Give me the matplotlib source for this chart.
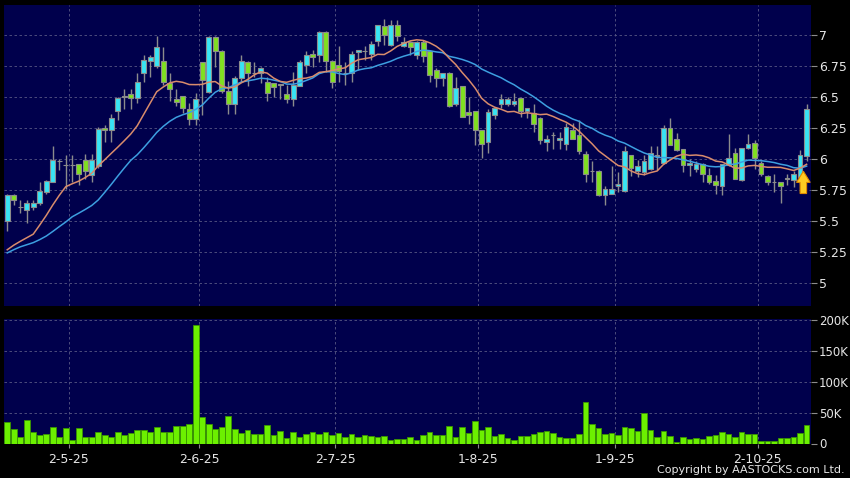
import matplotlib
matplotlib.use('Agg')
import matplotlib.pyplot as plt
from matplotlib.patches import FancyArrow
from matplotlib.ticker import FuncFormatter
import numpy as np

# Daily OHLC, one entry per trading day
opens = [5.50, 5.71, 5.61, 5.59, 5.61, 5.64, 5.73, 5.81, 5.98, 5.95,
         5.95, 5.96, 5.99, 5.87, 5.94, 6.25, 6.23, 6.39, 6.50, 6.52,
         6.49, 6.69, 6.79, 6.75, 6.79, 6.61, 6.48, 6.51, 6.40, 6.32,
         6.78, 6.54, 6.98, 6.87, 6.55, 6.44, 6.65, 6.78, 6.69, 6.69,
         6.62, 6.61, 6.60, 6.52, 6.48, 6.59, 6.76, 6.85, 6.84, 7.02,
         6.79, 6.76, 6.69, 6.69, 6.86, 6.87, 6.85, 6.95, 7.07, 6.92,
         7.08, 6.91, 6.94, 6.84, 6.94, 6.87, 6.72, 6.65, 6.69, 6.44,
         6.59, 6.38, 6.39, 6.23, 6.14, 6.35, 6.44, 6.44, 6.44, 6.49,
         6.39, 6.37, 6.33, 6.14, 6.19, 6.15, 6.12, 6.23, 6.19, 6.04,
         5.90, 5.90, 5.71, 5.72, 5.78, 5.74, 6.03, 5.90, 5.89, 5.92,
         6.02, 5.97, 6.25, 6.16, 6.08, 5.95, 5.92, 5.96, 5.87, 5.82,
         5.78, 5.95, 6.05, 5.83, 6.09, 6.13, 5.97, 5.86, 5.81, 5.81,
         5.84, 5.83, 5.85, 6.02]
highs = [5.72, 5.72, 5.67, 5.67, 5.67, 5.81, 5.83, 6.10, 6.00, 6.03,
         6.03, 5.96, 6.04, 6.04, 6.26, 6.27, 6.36, 6.50, 6.56, 6.56,
         6.69, 6.84, 6.84, 6.99, 6.90, 6.69, 6.56, 6.51, 6.45, 6.53,
         6.78, 6.99, 6.99, 6.88, 6.63, 6.67, 6.84, 6.79, 6.78, 6.74,
         6.66, 6.61, 6.60, 6.60, 6.70, 6.80, 6.87, 6.88, 7.03, 7.03,
         6.80, 6.91, 6.78, 6.87, 6.88, 6.91, 6.95, 7.08, 7.13, 7.12,
         7.12, 6.98, 6.95, 6.95, 6.96, 6.88, 6.73, 6.69, 6.70, 6.66,
         6.59, 6.50, 6.39, 6.23, 6.40, 6.42, 6.52, 6.50, 6.53, 6.49,
         6.41, 6.44, 6.34, 6.19, 6.22, 6.22, 6.29, 6.29, 6.31, 6.06,
         5.98, 5.91, 5.78, 5.94, 5.89, 6.10, 6.03, 5.99, 6.03, 6.10,
         6.10, 6.27, 6.33, 6.21, 6.08, 6.00, 5.98, 5.97, 5.93, 5.87,
         5.96, 6.20, 6.09, 6.09, 6.20, 6.15, 5.98, 5.87, 5.88, 5.81,
         5.88, 5.90, 6.07, 6.44]
lows = [5.42, 5.63, 5.56, 5.48, 5.59, 5.63, 5.72, 5.81, 5.91, 5.76,
        5.81, 5.79, 5.84, 5.81, 5.93, 6.14, 6.14, 6.31, 6.40, 6.40,
        6.45, 6.62, 6.66, 6.73, 6.60, 6.47, 6.43, 6.37, 6.27, 6.27,
        6.35, 6.53, 6.74, 6.53, 6.36, 6.36, 6.62, 6.59, 6.66, 6.61,
        6.47, 6.50, 6.48, 6.45, 6.43, 6.59, 6.69, 6.74, 6.78, 6.70,
        6.57, 6.62, 6.60, 6.62, 6.72, 6.80, 6.80, 6.91, 6.92, 6.91,
        6.95, 6.90, 6.84, 6.81, 6.78, 6.62, 6.58, 6.59, 6.42, 6.43,
        6.34, 6.28, 6.11, 6.01, 6.05, 6.32, 6.41, 6.43, 6.43, 6.34,
        6.33, 6.22, 6.12, 6.06, 6.08, 6.08, 6.07, 6.16, 6.04, 5.81,
        5.81, 5.70, 5.63, 5.72, 5.73, 5.73, 5.86, 5.85, 5.87, 5.91,
        5.91, 5.96, 6.11, 6.06, 5.89, 5.86, 5.89, 5.81, 5.80, 5.72,
        5.71, 5.94, 5.84, 5.82, 6.08, 5.92, 5.86, 5.79, 5.73, 5.64,
        5.79, 5.77, 5.80, 5.98]
closes = [5.71, 5.67, 5.61, 5.64, 5.64, 5.74, 5.82, 5.99, 5.98, 5.95,
          5.95, 5.88, 5.90, 5.99, 6.24, 6.23, 6.33, 6.49, 6.50, 6.49,
          6.62, 6.80, 6.82, 6.90, 6.62, 6.56, 6.46, 6.41, 6.32, 6.48,
          6.64, 6.98, 6.87, 6.55, 6.44, 6.65, 6.79, 6.69, 6.69, 6.73,
          6.53, 6.58, 6.60, 6.48, 6.60, 6.78, 6.84, 6.82, 7.02, 6.79,
          6.62, 6.71, 6.69, 6.85, 6.88, 6.87, 6.93, 7.08, 7.00, 7.08,
          6.99, 6.94, 6.90, 6.94, 6.83, 6.68, 6.65, 6.69, 6.43, 6.57,
          6.34, 6.35, 6.23, 6.12, 6.38, 6.41, 6.48, 6.48, 6.47, 6.39,
          6.41, 6.28, 6.15, 6.16, 6.19, 6.17, 6.26, 6.16, 6.06, 5.88,
          5.90, 5.71, 5.76, 5.76, 5.80, 6.06, 5.93, 5.94, 5.98, 6.05,
          6.03, 6.25, 6.11, 6.07, 5.95, 5.97, 5.96, 5.88, 5.81, 5.79,
          5.96, 6.01, 5.84, 6.09, 6.12, 6.01, 5.88, 5.81, 5.81, 5.78,
          5.84, 5.88, 6.03, 6.40]
# closes before the visible window, only used to warm up the moving averages
prior_closes = [5.15, 5.15, 5.30, 5.30, 5.25, 5.25, 5.25, 5.20, 5.20, 5.10,
                5.30, 5.30, 5.35, 5.35, 5.00, 5.05, 5.15, 5.20, 5.25]
# volume in thousands of shares
volumes = [34, 24, 11, 38, 18, 13, 15, 27, 10, 25,
           5, 25, 11, 11, 18, 13, 10, 19, 14, 17,
           22, 22, 19, 27, 19, 18, 28, 28, 31, 192,
           42, 31, 24, 27, 44, 24, 17, 22, 15, 16,
           30, 13, 20, 9, 19, 10, 15, 18, 15, 19,
           14, 17, 10, 15, 11, 14, 12, 11, 12, 5,
           8, 8, 10, 6, 13, 18, 13, 13, 28, 10,
           26, 17, 37, 21, 26, 12, 16, 9, 5, 12,
           12, 15, 18, 20, 17, 10, 9, 9, 15, 67,
           31, 25, 16, 17, 14, 26, 25, 20, 50, 22,
           10, 20, 12, 3, 10, 7, 9, 7, 12, 13,
           18, 15, 10, 18, 16, 15, 4, 4, 4, 9,
           9, 11, 17, 30]

date_labels = ['2-5-25', '2-6-25', '2-7-25', '1-8-25', '1-9-25', '2-10-25']
date_index = [9, 29, 50, 72, 93, 115]
price_ticks = [5, 5.25, 5.5, 5.75, 6, 6.25, 6.5, 6.75, 7]
volume_ticks = [0, 50, 100, 150, 200]

bg = '#00004c'
grid_color = '#585884'
up_color = '#38e4f4'
down_color = '#80e020'
edge_color = '#8c8c8c'
label_color = '#e6e6e6'
dash = (0, (3, 3))

o = np.array(opens)
h = np.array(highs)
l = np.array(lows)
c = np.array(closes)
x = np.arange(len(c))

full = np.concatenate([prior_closes, c])
ma10 = np.convolve(full, np.ones(10) / 10, mode='valid')[-len(c):]
ma20 = np.convolve(full, np.ones(20) / 20, mode='valid')[-len(c):]

fig = plt.figure(figsize=(8.5, 4.78), dpi=100, facecolor='black')
ax = fig.add_axes([4 / 850, 1 - 305.5 / 478, 806.5 / 850, 300.5 / 478])
axv = fig.add_axes([4 / 850, 1 - 443.5 / 478, 806.5 / 850, 124.5 / 478])

for a, size in ((ax, 9), (axv, 8.5)):
    a.set_facecolor(bg)
    for s in a.spines.values():
        s.set_visible(False)
    a.set_xlim(-0.5, len(c) - 0.4)
    a.yaxis.tick_right()
    a.tick_params(axis='y', colors=edge_color, labelcolor=label_color,
                  length=4, width=0.8, pad=2, labelsize=size)
    a.set_axisbelow(True)
    for i in date_index:
        a.axvline(i + 0.5, color=grid_color, lw=0.6, ls=dash, zorder=0)

# Price panel
ax.set_ylim(4.816, 7.242)
ax.set_yticks(price_ticks)
ax.yaxis.set_major_formatter(FuncFormatter(lambda v, p: '%g' % v))
ax.set_xticks([])
for t in price_ticks:
    ax.axhline(t, color=grid_color, lw=0.6, ls=dash, zorder=0)

ax.vlines(x, l, h, color=edge_color, lw=1, zorder=2)
body_colors = np.where(c > o, up_color, np.where(c < o, down_color, '#a0a0a0'))
bottoms = np.minimum(o, c)
heights = np.maximum(np.abs(c - o), 0.004)
ax.bar(x, heights, bottom=bottoms, width=0.72, color=body_colors,
       edgecolor=edge_color, linewidth=0.8, zorder=3)

ax.plot(x, ma20, color='#3d9fe0', lw=1.1, zorder=4)
ax.plot(x, ma10, color='#d98c6c', lw=1.1, zorder=4)

# buy signal arrow under the last candles
ax.add_patch(FancyArrow(len(c) - 1.5, 5.72, 0, 0.18, width=1.0,
                        head_width=2.1, head_length=0.09,
                        length_includes_head=True, facecolor='#ffcc22',
                        edgecolor='#e08a00', lw=0.8, zorder=5))

# Volume panel
vol = np.array(volumes) * 1000
axv.set_ylim(0, 201000)
axv.set_yticks([v * 1000 for v in volume_ticks])
axv.set_yticklabels(['0'] + ['%dK' % v for v in volume_ticks[1:]])
for t in volume_ticks[1:]:
    axv.axhline(t * 1000, color=grid_color, lw=0.6, ls=dash, zorder=0)
axv.bar(x, vol, width=0.86, color='#6cf000', edgecolor='#3a9600',
        linewidth=0.6, zorder=3)

axv.set_xticks([i + 0.5 for i in date_index])
axv.set_xticklabels(date_labels)
axv.tick_params(axis='x', colors=edge_color, labelcolor=label_color,
                length=3, width=0.8, pad=4, labelsize=9)

fig.text(845 / 850, 1 - 470 / 478, 'Copyright by AASTOCKS.com Ltd.',
         color=label_color, fontsize=8, ha='right', va='center')

fig.savefig('out.png', dpi=100, facecolor='black')
